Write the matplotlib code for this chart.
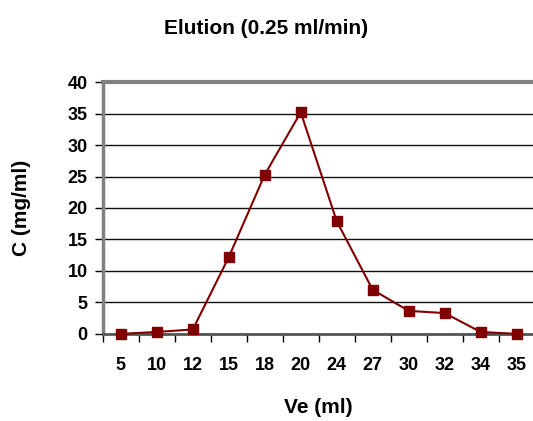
import numpy as np
import matplotlib.pyplot as plt

plt.rcParams['font.family'] = ['Liberation Sans', 'DejaVu Sans']

volumes = ["5", "10", "12", "15", "18", "20", "24", "27", "30", "32", "34", "35"]
conc = [0, 0.3, 0.7, 12.2, 25.3, 35.2, 17.9, 7.0, 3.65, 3.3, 0.3, 0]

fig = plt.figure(figsize=(5.33, 4.21), dpi=100)
ax = fig.add_axes([0.193, 0.207, 0.81, 0.598])

x = np.arange(len(volumes))
ax.plot(x, conc, color="#800000", lw=1.5, marker="s", markersize=7,
        markerfacecolor="#800000", markeredgecolor="#800000", clip_on=False, zorder=3)

ax.set_xlim(-0.5, len(volumes) - 0.5)
ax.set_ylim(0, 40)
ax.set_yticks(range(0, 41, 5))
ax.set_xticks(x)
ax.set_xticklabels(volumes)
ax.set_xticks(np.arange(-0.5, len(volumes), 1), minor=True)
ax.tick_params(axis="x", which="major", length=0, pad=17, labelsize=13)
ax.tick_params(axis="x", which="minor", length=6, width=1, direction="out")
ax.tick_params(axis="y", length=6, width=1, labelsize=13, pad=5)
for lab in ax.get_xticklabels() + ax.get_yticklabels():
    lab.set_fontweight("bold")

ax.yaxis.grid(True, color="#111111", lw=1)
ax.set_axisbelow(True)

ax.spines["left"].set_color("#808080")
ax.spines["left"].set_linewidth(2.5)
ax.spines["top"].set_color("#808080")
ax.spines["top"].set_linewidth(3)
ax.spines["bottom"].set_color("#555555")
ax.spines["bottom"].set_linewidth(2)
ax.spines["right"].set_visible(False)

ax.set_xlabel("Ve (ml)", fontsize=15, fontweight="bold", labelpad=17)
ax.set_ylabel("C (mg/ml)", fontsize=15, fontweight="bold", labelpad=26)
fig.suptitle("Elution (0.25 ml/min)", fontsize=15, fontweight="bold", y=0.955)

fig.savefig("out.png", dpi=100)
